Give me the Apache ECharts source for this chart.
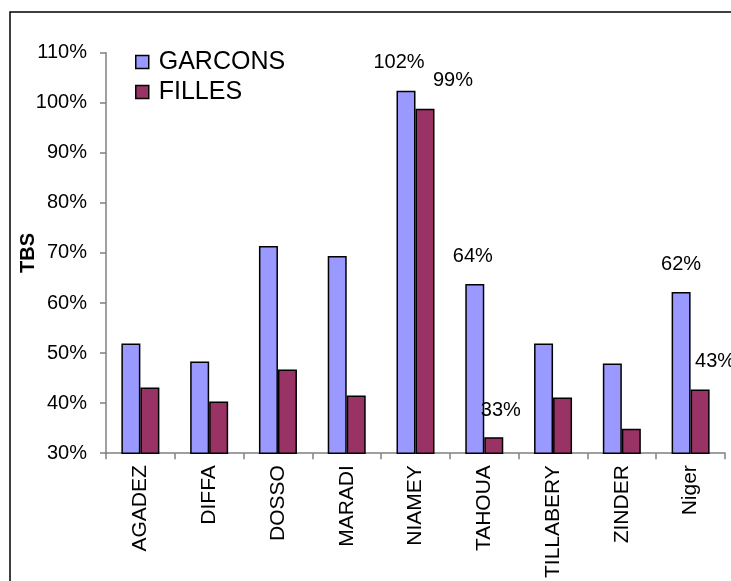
<!DOCTYPE html>
<html>
<head>
<meta charset="utf-8">
<script src="https://cdn.jsdelivr.net/npm/echarts@6/dist/echarts.min.js"></script>
<style>
html,body{margin:0;padding:0;background:#fff;}
#chart{width:731px;height:581px;}
</style>
</head>
<body>
<div id="chart"></div>
<script>
// ---- data ----
var categories = ['AGADEZ','DIFFA','DOSSO','MARADI','NIAMEY','TAHOUA','TILLABERY','ZINDER','Niger'];
var garcons = [51.9, 48.3, 71.4, 69.4, 102.4, 63.8, 51.9, 47.9, 62.2];
var filles  = [43.1, 40.3, 46.7, 41.5, 98.8, 33.2, 41.1, 34.9, 42.7];
var yTicks = [30, 40, 50, 60, 70, 80, 90, 100, 110];

// label placement (style only)
var labelG = {NIAMEY: [-7, -1], TAHOUA: [-2, 0], Niger: [0, 0]};
var labelF = {NIAMEY: [28, -1], TAHOUA: [7, 0], Niger: [15, -1]};

var FONT = 'Liberation Sans, Arial, sans-serif';

function buildData(values, labelMap) {
  return values.map(function (v, i) {
    var cat = categories[i];
    var item = {value: v};
    if (labelMap[cat]) {
      item.label = {show: true, offset: labelMap[cat]};
    }
    return item;
  });
}

var commonLabel = {
  show: false,
  position: 'top',
  distance: 17,
  color: '#000',
  fontSize: 20,
  fontFamily: FONT,
  formatter: function (p) { return Math.round(p.value) + '%'; }
};

var chart = echarts.init(document.getElementById('chart'), null, {renderer: 'canvas'});
chart.setOption({
  animation: false,
  backgroundColor: '#fff',
  textStyle: {fontFamily: FONT},
  graphic: [{
    type: 'rect',
    shape: {x: 10, y: 12, width: 900, height: 800},
    style: {fill: 'none', stroke: '#000', lineWidth: 1.5},
    silent: true,
    z: -1
  }],
  grid: {left: 106, right: 6, top: 52.7, bottom: 126, containLabel: false},
  legend: {
    orient: 'vertical',
    left: 130,
    top: 44,
    itemWidth: 13,
    itemHeight: 13,
    itemGap: 4,
    icon: 'rect',
    textStyle: {fontSize: 25, color: '#000', fontFamily: FONT, lineHeight: 26, padding: [0, 0, 0, 5]},
    data: [
      {name: 'GARCONS', itemStyle: {color: '#9999FF', borderColor: '#000', borderWidth: 1.5}},
      {name: 'FILLES', itemStyle: {color: '#993366', borderColor: '#000', borderWidth: 1.5}}
    ]
  },
  xAxis: {
    type: 'category',
    data: categories,
    boundaryGap: true,
    axisLine: {lineStyle: {color: '#808080', width: 1.5}},
    axisTick: {show: true, length: 6, lineStyle: {color: '#808080', width: 1.5}},
    axisLabel: {rotate: 90, fontSize: 21, color: '#000', fontFamily: FONT, margin: 12, interval: 0}
  },
  yAxis: {
    type: 'value',
    min: yTicks[0],
    max: yTicks[yTicks.length - 1],
    interval: 10,
    name: 'TBS',
    nameLocation: 'middle',
    nameGap: 68,
    nameRotate: 90,
    nameMoveOverlap: false,
    nameTextStyle: {fontSize: 20, fontWeight: 'bold', color: '#000', fontFamily: FONT},
    axisLine: {show: true, lineStyle: {color: '#808080', width: 1.5}},
    axisTick: {show: true, length: 6, lineStyle: {color: '#808080', width: 1.5}},
    splitLine: {show: false},
    axisLabel: {fontSize: 20, color: '#000', fontFamily: FONT, margin: 19, formatter: '{value}%'}
  },
  series: [
    {
      name: 'GARCONS',
      type: 'bar',
      barWidth: 19,
      barGap: '0%',
      data: buildData(garcons, labelG),
      itemStyle: {color: '#9999FF', borderColor: '#000', borderWidth: 1.5},
      label: commonLabel
    },
    {
      name: 'FILLES',
      type: 'bar',
      barWidth: 19,
      barGap: '0%',
      data: buildData(filles, labelF),
      itemStyle: {color: '#993366', borderColor: '#000', borderWidth: 1.5},
      label: commonLabel
    }
  ]
});
</script>
</body>
</html>
